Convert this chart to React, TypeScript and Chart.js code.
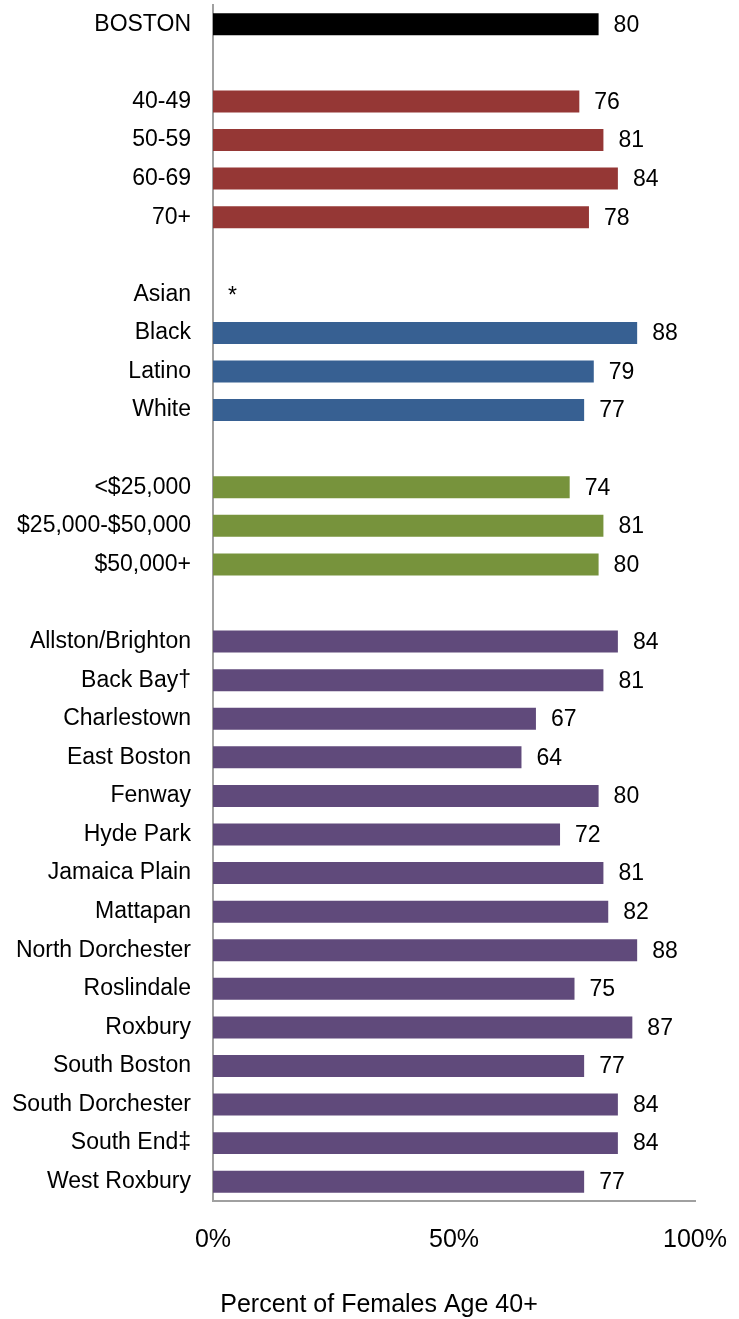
import React, { useEffect, useRef } from "react";
import { Chart, registerables } from "chart.js";

Chart.register(...registerables);

// ---- Data ----
const overallLabels = ["BOSTON"];
const overallValues: (number | null)[] = [80];

const ageLabels = ["40-49", "50-59", "60-69", "70+"];
const ageValues: (number | null)[] = [76, 81, 84, 78];

const raceLabels = ["Asian", "Black", "Latino", "White"];
const raceValues: (number | null)[] = [null, 88, 79, 77];

const incomeLabels = ["<$25,000", "$25,000-$50,000", "$50,000+"];
const incomeValues: (number | null)[] = [74, 81, 80];

const neighborhoodLabels = [
  "Allston/Brighton",
  "Back Bay†",
  "Charlestown",
  "East Boston",
  "Fenway",
  "Hyde Park",
  "Jamaica Plain",
  "Mattapan",
  "North Dorchester",
  "Roslindale",
  "Roxbury",
  "South Boston",
  "South Dorchester",
  "South End‡",
  "West Roxbury",
];
const neighborhoodValues: (number | null)[] = [84, 81, 67, 64, 80, 72, 81, 82, 88, 75, 87, 77, 84, 84, 77];

const xTickValues = [0, 50, 100];
const suppressedMark = "*";
const axisTitle = "Percent of Females Age 40+";

const groupColors = ["#000000", "#953735", "#376092", "#77933C", "#604A7B"];

// ---- Build rows with spacer rows between groups ----
const groups = [
  { labels: overallLabels, values: overallValues },
  { labels: ageLabels, values: ageValues },
  { labels: raceLabels, values: raceValues },
  { labels: incomeLabels, values: incomeValues },
  { labels: neighborhoodLabels, values: neighborhoodValues },
];

const rowLabels: string[] = [];
const rowValues: (number | null)[] = [];
const rowColors: string[] = [];
const rowIsReal: boolean[] = [];
groups.forEach((g, gi) => {
  if (gi > 0) {
    rowLabels.push("");
    rowValues.push(null);
    rowColors.push("rgba(0,0,0,0)");
    rowIsReal.push(false);
  }
  g.labels.forEach((l, i) => {
    rowLabels.push(l);
    rowValues.push(g.values[i]);
    rowColors.push(groupColors[gi]);
    rowIsReal.push(true);
  });
});

const FONT = "'Liberation Sans', Arial, Helvetica, sans-serif";

const valueLabelPlugin = {
  id: "valueLabels",
  afterDatasetsDraw(chart: any) {
    const ctx = chart.ctx;
    const meta = chart.getDatasetMeta(0);
    const xScale = chart.scales.x;
    const yScale = chart.scales.y;
    ctx.save();
    ctx.font = `23px ${FONT}`;
    ctx.fillStyle = "#000";
    ctx.textAlign = "left";
    ctx.textBaseline = "middle";
    rowValues.forEach((v, i) => {
      if (!rowIsReal[i]) return;
      const y = yScale.getPixelForValue(i);
      if (v === null) {
        ctx.fillText(suppressedMark, xScale.getPixelForValue(0) + 15, y + 2);
      } else {
        const bar = meta.data[i];
        ctx.fillText(String(v), bar.x + 15, y + 1);
      }
    });
    ctx.restore();
  },
};

const axisTitlePlugin = {
  id: "axisTitleCustom",
  afterDraw(chart: any) {
    const ctx = chart.ctx;
    ctx.save();
    ctx.font = `25px ${FONT}`;
    ctx.fillStyle = "#000";
    ctx.textAlign = "center";
    ctx.textBaseline = "middle";
    ctx.fillText(axisTitle, 379, 1305);
    ctx.restore();
  },
};

export default function App() {
  const canvasRef = useRef<HTMLCanvasElement | null>(null);

  useEffect(() => {
    if (!canvasRef.current) return;
    const chart = new Chart(canvasRef.current, {
      type: "bar",
      data: {
        labels: rowLabels,
        datasets: [
          {
            data: rowValues as any,
            backgroundColor: rowColors,
            borderWidth: 0,
            barPercentage: 0.57,
            categoryPercentage: 1,
          },
        ],
      },
      options: {
        indexAxis: "y",
        responsive: false,
        animation: false,
        devicePixelRatio: 1,
        layout: { padding: { left: 0, right: 44, top: 5, bottom: 0 } },
        plugins: {
          legend: { display: false },
          tooltip: { enabled: false },
          title: { display: false },
        },
        scales: {
          x: {
            type: "linear",
            min: 0,
            max: 100,
            afterBuildTicks: (scale: any) => {
              scale.ticks = xTickValues.map((v) => ({ value: v }));
            },
            afterFit: (scale: any) => {
              scale.height = 118;
              scale.paddingLeft = 0;
              scale.paddingRight = 0;
              scale.paddingTop = 0;
              scale.paddingBottom = 0;
            },
            grid: { display: false, drawTicks: false },
            border: { display: true, color: "#a0a0a0", width: 2 },
            ticks: {
              padding: 24,
              color: "#000",
              font: { family: FONT, size: 25 },
              maxRotation: 0,
              callback: (v: any) => `${v}%`,
            },
          },
          y: {
            type: "category",
            afterFit: (scale: any) => {
              scale.width = 213;
              scale.paddingLeft = 0;
              scale.paddingRight = 0;
              scale.paddingTop = 0;
              scale.paddingBottom = 0;
            },
            grid: { display: false, drawTicks: false },
            border: { display: true, color: "#a0a0a0", width: 2 },
            ticks: {
              padding: 22,
              color: "#000",
              font: { family: FONT, size: 23 },
              autoSkip: false,
            },
          },
        },
      },
      plugins: [valueLabelPlugin, axisTitlePlugin],
    });
    return () => chart.destroy();
  }, []);

  return (
    <div style={{ position: "absolute", left: 0, top: 0, width: 739, height: 1319, background: "#fff" }}>
      <canvas ref={canvasRef} width={739} height={1319} style={{ display: "block" }} />
    </div>
  );
}
